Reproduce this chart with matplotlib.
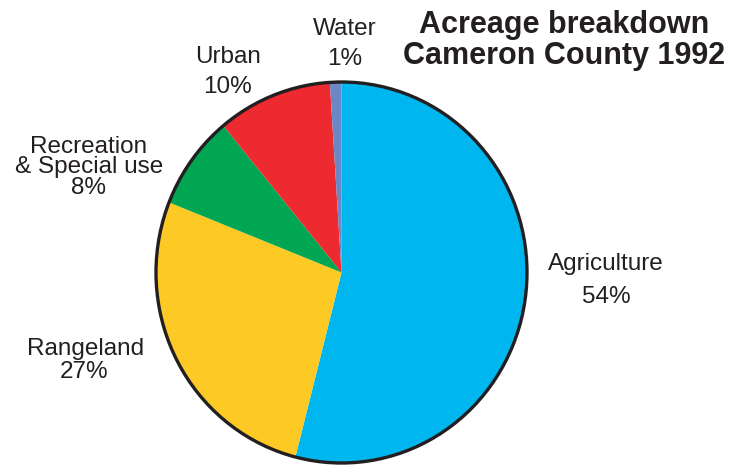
import matplotlib.pyplot as plt
from matplotlib.patches import Circle

plt.rcParams["font.family"] = ["Liberation Sans", "DejaVu Sans"]

# acreage share by land use, clockwise from 12 o'clock
categories = ["Agriculture", "Rangeland", "Recreation\n& Special use", "Urban", "Water"]
shares = [54, 27, 8, 10, 1]
colors = ["#00B6EE", "#FDCA25", "#00A651", "#ED2A2F", "#6B87C6"]

title_lines = ["Acreage breakdown", "Cameron County 1992"]

W, H = 737, 465
INK = "#231F20"

fig = plt.figure(figsize=(W / 100, H / 100), dpi=100)


def px(x, y):
    """pixel coords (from top-left) -> figure fraction"""
    return x / W, 1 - y / H


# pie box, slightly taller than wide
left, top, right, bottom = 156, 82, 527, 463
ax = fig.add_axes([left / W, 1 - bottom / H, (right - left) / W, (bottom - top) / H])
wedges, _ = ax.pie(shares, colors=colors, startangle=90, counterclock=False,
                   wedgeprops=dict(linewidth=0))
ax.set_aspect("auto")
ax.set_xlim(-1, 1)
ax.set_ylim(-1, 1)
ax.add_patch(Circle((0, 0), 1, fill=False, lw=2.4, ec=INK, clip_on=False))

# label lines: (centre x, baseline y) in pixels
label_pos = {
    "Agriculture": [(606, 270), (606, 303)],
    "Rangeland": [(86, 355), (84, 378)],
    "Recreation\n& Special use": [(89, 153), (89, 173), (89, 194)],
    "Urban": [(228, 63), (228, 93)],
    "Water": [(345, 35), (345, 65)],
}

for name, pct in zip(categories, shares):
    lines = name.split("\n") + [f"{pct}%"]
    for txt, (x, y) in zip(lines, label_pos[name]):
        fig.text(*px(x, y), txt, ha="center", va="baseline",
                 fontsize=17.5, color=INK)

for txt, y in zip(title_lines, [33, 64]):
    fig.text(*px(564, y), txt, ha="center", va="baseline",
             fontsize=22, fontweight="bold", color=INK)

fig.savefig("out.png", dpi=100)
